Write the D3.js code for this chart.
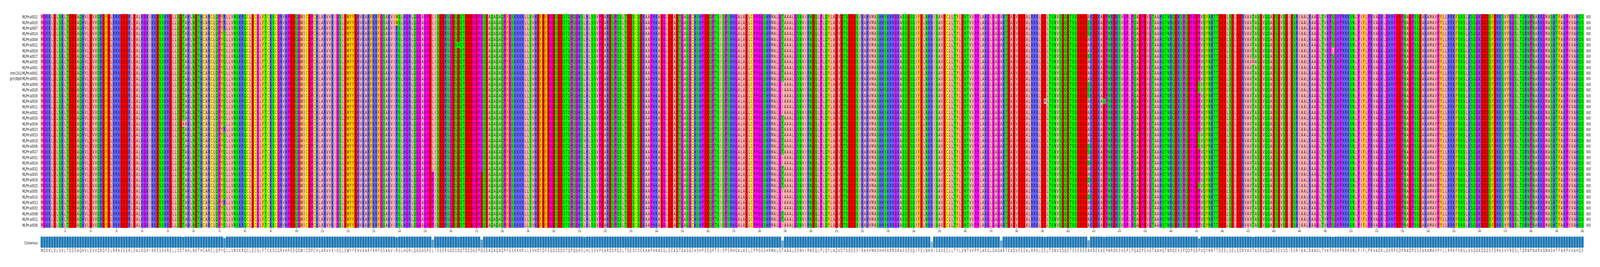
<!DOCTYPE html>
<html>
<head>
<meta charset="utf-8">
<script src="https://cdn.jsdelivr.net/npm/d3@7"></script>
<style>
  html, body { margin: 0; padding: 0; background: #fff; overflow: hidden; }
  svg { display: block; width: 100vw; height: 100vh; }
  text { font-family: "DejaVu Sans", sans-serif; fill: #111; }
</style>
</head>
<body>
<div id="msa"></div>
<script>
const frame_width = 6271;
const frame_height = 683;

// row names, top to bottom (rows 14-27 could not be read individually, their order is a guess)
const names = [
    "MLPH:a0022", "MLPH:a0020", "MLPH:a0007", "MLPH:a0014", "MLPH:a0004", "MLPH:a0021", "MLPH:a0029",
    "MLPH:a0017", "MLPH:a0035", "MLPH:a0001", "chm13v2:MLPH:a0001", "grch38p0:MLPH:a0001", "MLPH:a0009", "MLPH:a0028",
    "MLPH:a0030", "MLPH:a0026", "MLPH:a0011", "MLPH:a0002", "MLPH:a0016", "MLPH:a0034", "MLPH:a0023",
    "MLPH:a0015", "MLPH:a0019", "MLPH:a0006", "MLPH:a0027", "MLPH:a0031", "MLPH:a0024", "MLPH:a0032",
    "MLPH:a0003", "MLPH:a0018", "MLPH:a0025", "MLPH:a0005", "MLPH:a0010", "MLPH:a0013", "MLPH:a0033",
    "MLPH:a0008", "MLPH:a0012", "MLPH:a0036"
];

// consensus sequence, 100 residues per line
const consensus = [
    "MGKKLDLSKLTDEEAQHVLEVVQRDFDLRRKEEERLEALKGKIKKESSKRELLSDTAHLNETHCARCLQPYQLLVNSKRQCLECGLFTCKSCGRVHPEEQ",
    "GWICDPCHLARVVKIGSLEWYYEHVKARFKRFGSAKVIRSLHGRLQGGAGPELISEERSGDSDQTDEDGEPGSEAQAQAQPFGSKKKRLLSVHDFDFEGD",
    "SDDSTQPQGHSLHLSSVPEARDSPQSLTDESCSEKAAPHKAEGLEEADTGASGCHSHPEEQPTSISPSRHGALAELCPPGGSHRMALGTAAALGSNVIRN",
    "EQLPLQYLADVDTSDEESIRAHVMASHHSKRRGRASSESQIFELNKHISAVECLLTYLENTVVPPLAKGLGAGARTEADVEEEALRRKLEELTSNVSDQE",
    "TSSEEEEAKDEKAEPNRDKSVGPLPQADPEVGTAAHQTNRQEKSPQDPGDPVQYNRTTDEELSELEDRVAVTASEVQQAESEVSDIESRIAALRAAGLTV",
    "KPSGKPRRKSNLPIFLPRVAGKLGKRPEDPNADPSSEAKAMAVPYLLRRKFSNSLKSQGKDDDSFDRKSVYRGSLTQRNPNARKGMASHTFAKPVVAHQS"
].join("");

// differences from the consensus: [position, residue, row indexes]
const variants = [
    [56, "A", [19]],
    [72, "R", [0, 1, 2, 20, 33]],
    [139, "W", [0, 1]],
    [153, "P", [28, 29, 30, 31, 32, 33, 34, 35, 36, 37]],
    [163, "N", [5]],
    [172, "D", [28, 29, 30, 31, 32, 33, 34, 35, 36, 37]],
    [212, "V", [22]],
    [289, "I", [12, 13, 14, 15, 16, 17, 25, 26, 31, 32, 33, 34, 37]],
    [347, "R", [18, 19, 20, 21, 22, 23, 24, 25, 26, 27, 28, 29, 30, 31, 32, 33, 34]],
    [374, "V", [0, 7, 8, 9, 10, 11, 13, 14, 15, 16, 27, 31, 36]],
    [391, "M", [15]],
    [408, "S", [1, 2, 3, 7, 12, 13, 14, 23, 24, 26, 29, 32]],
    [414, "Q", [15]],
    [451, "S", [12, 13, 21, 22, 23, 30]],
    [472, "M", [8]],
    [503, "L", [6]]
];

const tick_values = d3.range(10, 601, 10);

// Zappo residue colours
const residue_colors = {
    A: "#ffafaf", V: "#ffafaf", L: "#ffafaf", I: "#ffafaf", M: "#ffafaf",
    F: "#ffc800", W: "#ffc800", Y: "#ffc800",
    K: "#6464ff", R: "#6464ff", H: "#6464ff",
    D: "#ff0000", E: "#ff0000",
    S: "#00ff00", T: "#00ff00", N: "#00ff00", Q: "#00ff00",
    P: "#ff00ff", G: "#ff00ff",
    C: "#ffff00"
};

// build the alignment rows from the consensus + the differences
const columns = d3.range(1, consensus.length + 1);
const rows = names.map(() => consensus.split(""));
variants.forEach(([pos, residue, row_list]) => {
    row_list.forEach(r => { rows[r][pos - 1] = residue; });
});

const x_scale = d3.scaleBand().domain(columns).range([159, 6207]);
const y_scale = d3.scaleBand().domain(d3.range(names.length)).range([36, 582.7]);
const bar_scale = d3.scaleLinear().domain([0, 1]).range([634, 605]);

// text in the picture is a bit narrower than the plain font
const x_squeeze = 0.86;

// the browser can be narrower than the chart, so the viewBox keeps all of it in the window
const FRAME =
d3.select("#msa")
    .append("svg")
        .attr("viewBox", "0 0 " + frame_width + " " + frame_height)
        .attr("preserveAspectRatio", "none");

const cells = [];
rows.forEach((row, r) => row.forEach((residue, c) => cells.push({r, c: c + 1, residue})));

FRAME.append("g")
    .attr("shape-rendering", "crispEdges")
    .selectAll("rect")
    .data(cells)
    .join("rect")
        .attr("x", d => x_scale(d.c))
        .attr("y", d => y_scale(d.r))
        .attr("width", x_scale.bandwidth() + 0.5)
        .attr("height", y_scale.bandwidth() + 0.5)
        .attr("fill", d => residue_colors[d.residue]);

FRAME.append("g")
    .selectAll("text")
    .data(cells)
    .join("text")
        .attr("transform", d => "translate(" + (x_scale(d.c) + x_scale.bandwidth() / 2) + "," + (y_scale(d.r) + y_scale.bandwidth() / 2 + 4.1) + ") scale(" + x_squeeze + ",1)")
        .attr("text-anchor", "middle")
        .attr("font-size", 11.4)
        .text(d => d.residue);

// names on the left
FRAME.append("g")
    .selectAll("text")
    .data(names)
    .join("text")
        .attr("transform", (d, i) => "translate(147.7," + (y_scale(i) + y_scale.bandwidth() / 2 + 4) + ") scale(" + x_squeeze + ",1)")
        .attr("text-anchor", "end")
        .attr("font-size", 11.2)
        .text(d => d);

// residue counts on the right
FRAME.append("g")
    .selectAll("text")
    .data(names)
    .join("text")
        .attr("transform", (d, i) => "translate(6217.5," + (y_scale(i) + y_scale.bandwidth() / 2 + 4) + ") scale(" + x_squeeze + ",1)")
        .attr("font-size", 10.4)
        .text(() => consensus.length);

// position axis
const axis = FRAME.append("g")
    .attr("transform", "translate(0,582.7)")
    .call(d3.axisBottom(x_scale).tickValues(tick_values).tickSize(4).tickPadding(2).tickSizeOuter(0));
axis.select(".domain").remove();
axis.selectAll("line").attr("stroke", "#222").attr("stroke-width", 1);
axis.selectAll("text")
    .attr("font-size", 7.6)
    .attr("font-family", "DejaVu Sans")
    .attr("transform", "scale(" + x_squeeze + ",1)")
    .attr("fill", "#222");

// consensus bars, height and alpha = share of rows agreeing with the consensus
const identity = columns.map(c => d3.mean(rows, row => row[c - 1] === consensus[c - 1] ? 1 : 0));

FRAME.append("g")
    .selectAll("rect")
    .data(columns)
    .join("rect")
        .attr("x", d => x_scale(d))
        .attr("y", d => bar_scale(identity[d - 1]))
        .attr("width", x_scale.bandwidth())
        .attr("height", d => bar_scale(0) - bar_scale(identity[d - 1]))
        .attr("fill", "#1f77b4")
        .attr("fill-opacity", d => identity[d - 1])
        .attr("stroke", "#dcecf5")
        .attr("stroke-width", 0.9);

FRAME.append("text")
    .attr("transform", "translate(147.7,625) scale(" + x_squeeze + ",1)")
    .attr("text-anchor", "end")
    .attr("font-size", 11.2)
    .text("Consensus");

FRAME.append("g")
    .selectAll("text")
    .data(columns)
    .join("text")
        .attr("transform", d => "translate(" + (x_scale(d) + x_scale.bandwidth() / 2) + ",645.3) scale(" + x_squeeze + ",1)")
        .attr("text-anchor", "middle")
        .attr("font-size", 11.4)
        .attr("fill-opacity", 0.85)
        .text(d => consensus[d - 1]);
</script>
</body>
</html>
